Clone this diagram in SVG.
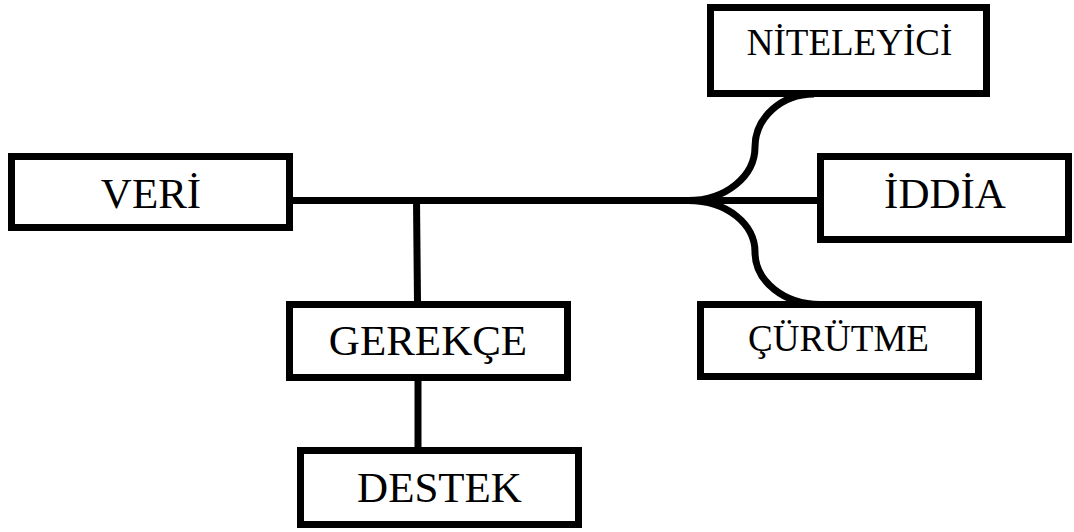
<svg xmlns="http://www.w3.org/2000/svg" width="1074" height="532" viewBox="0 0 1074 532">
<style>
.box{fill:#fff;stroke:#000;stroke-width:7}
.lbl{font-family:"Liberation Serif","Times New Roman",serif;fill:#000;text-anchor:middle}
.big{font-size:43px}
.small{font-size:37px}
.con{fill:none;stroke:#000;stroke-width:7}
</style>
<rect width="1074" height="532" fill="#fff"/>
<g id="connectors">
<path class="con" d="M293,200.5 H818"/>
<path class="con" d="M416.5,200 L417.5,302"/>
<path class="con" d="M418,380 V448"/>
<path class="con" d="M688,200.5 C726,200.5 755,176 755,147 C755,118 781,94 814,94"/>
<path class="con" d="M688,200.5 C728,200.5 755,225 755,252 C755,282 785,304.5 820,304.5"/>
</g>
<g id="veri"><rect class="box" x="11.5" y="156.5" width="278" height="71"/><text class="lbl big" x="151" y="208">VERİ</text></g>
<g id="gerekce"><rect class="box" x="289.5" y="304.5" width="278" height="73"/><text class="lbl big" x="428" y="355">GEREKÇE</text></g>
<g id="destek"><rect class="box" x="300.5" y="450.5" width="278" height="74"/><text class="lbl big" x="439.5" y="502">DESTEK</text></g>
<g id="niteleyici"><rect class="box" x="710.5" y="7.5" width="276" height="86"/><text class="lbl small" x="849.5" y="55">NİTELEYİCİ</text></g>
<g id="iddia"><rect class="box" x="820.5" y="156.5" width="248" height="83"/><text class="lbl big" x="945" y="208">İDDİA</text></g>
<g id="curutme"><rect class="box" x="700.5" y="304.5" width="278" height="72"/><text class="lbl small" x="838.5" y="351">ÇÜRÜTME</text></g>
</svg>
